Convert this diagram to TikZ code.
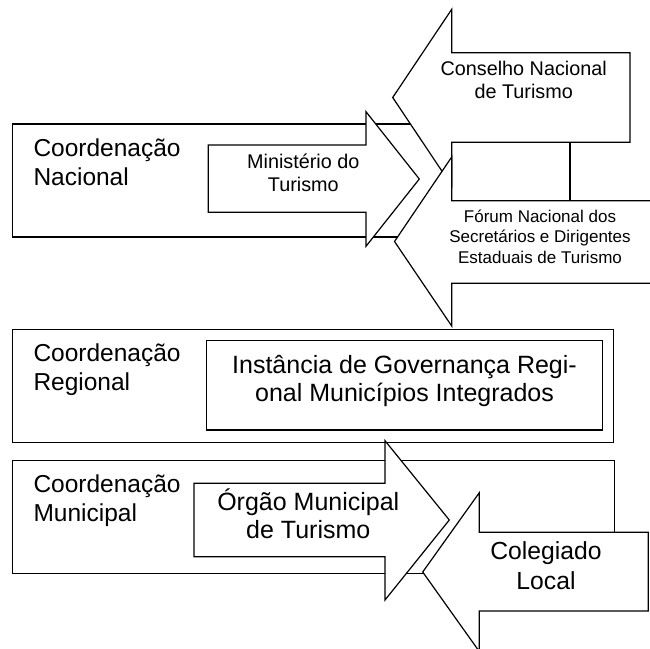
\documentclass[tikz,border=0pt]{standalone}
\usepackage{fontspec}
\setmainfont{Liberation Sans}
\begin{document}
\begin{tikzpicture}[x=1pt,y=-1pt,
  shapeline/.style={draw=black, fill=white, line width=1.2pt, line join=miter},
  plainline/.style={draw=black, line width=1.2pt},
  bigtxt/.style={font=\fontsize{24.5}{29}\selectfont},
  midtxt/.style={font=\fontsize{19.8}{23}\selectfont},
  smalltxt/.style={font=\fontsize{17}{20.5}\selectfont},
  lbl/.style={inner sep=0pt, align=center, anchor=base},
  lbll/.style={inner sep=0pt, align=left, anchor=base west},
]
\clip (0,0) rectangle (650,648);
\fill[white] (0,0) rectangle (650,648);

% --- national level -------------------------------------------------
% frame; its right side runs underneath the arrow heads
\path[shapeline] (451.7,124) -- (12.7,124) -- (12.7,237) -- (451.7,237);
\node[lbll, bigtxt] (nacional) at (33.3,185.3) {Coordenação\\Nacional};

% Ministério do Turismo (arrow to the right)
\path[shapeline] (208.3,145) -- (366,145) -- (366,111.7) -- (419.3,179)
  -- (366,246.3) -- (366,212.3) -- (208.3,212.3) -- cycle;
\node[lbl, midtxt] (ministerio) at (303.3,191.7) {Ministério do\\Turismo};

% Conselho Nacional de Turismo (arrow to the left)
\path[shapeline] (630,52.7) -- (451.7,52.7) -- (451.7,9.3) -- (392.7,97.5)
  -- (451.7,185.7) -- (451.7,142.3) -- (630,142.3) -- cycle;
\node[lbl, midtxt] (conselho) at (523.7,98.7) {Conselho Nacional\\de Turismo};

% Fórum Nacional (arrow to the left, running off the right edge)
\path[shapeline] (660,200.7) -- (451.7,200.7) -- (451.7,157) -- (394.5,241.5)
  -- (451.7,326) -- (451.7,283.3) -- (660,283.3);
\node[lbl, smalltxt] (forum) at (540,263.3)
  {Fórum Nacional dos\\Secretários e Dirigentes\\Estaduais de Turismo};

% link between the two councils
\coordinate (conselho-base) at (570,142.3);
\coordinate (forum-top) at (570,200.7);
\draw[plainline] (conselho-base) -- (forum-top);

% --- regional level -------------------------------------------------
\path[shapeline] (12.7,329.3) rectangle (613.3,442.3);
\node[lbll, bigtxt] (regional) at (33.3,390) {Coordenação\\Regional};
\path[shapeline] (206.7,340.7) rectangle (602.7,430);
\node[lbl, font=\fontsize{25}{28.4}\selectfont] (instancia) at (404.5,401.7)
  {Instância de Governança Regi-\\onal Municípios Integrados};

% --- municipal level ------------------------------------------------
\path[shapeline] (12.7,460.7) rectangle (614.3,573.3);
\node[lbll, bigtxt] (municipal) at (33.3,521.7) {Coordenação\\Municipal};

% Órgão Municipal de Turismo (arrow to the right)
\path[shapeline] (194,483.3) -- (385,483.3) -- (385,440.7) -- (449.3,520)
  -- (385,600) -- (385,556.7) -- (194,556.7) -- cycle;
\node[lbl, font=\fontsize{25}{28.3}\selectfont] (orgao) at (308.3,538.3)
  {Órgão Municipal\\de Turismo};

% Colegiado Local (arrow to the left)
\path[shapeline] (648.3,532.3) -- (479.3,532.3) -- (479.3,492.7) -- (422.7,572)
  -- (479.3,651.5) -- (479.3,611) -- (648.3,611) -- cycle;
\node[lbl, font=\fontsize{24.7}{30}\selectfont] (colegiado) at (546,589)
  {Colegiado\\Local};
\end{tikzpicture}
\end{document}
